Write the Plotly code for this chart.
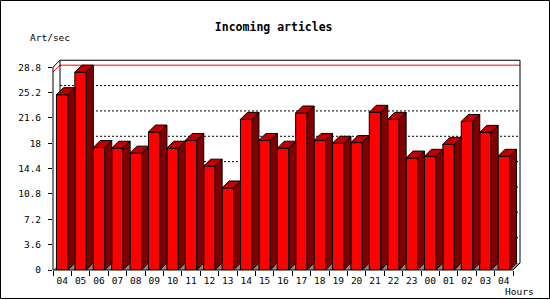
import plotly.graph_objects as go

# ---- data ----
hours = ["04", "05", "06", "07", "08", "09", "10", "11", "12", "13", "14", "15", "16",
         "17", "18", "19", "20", "21", "22", "23", "00", "01", "02", "03", "04"]
rates = [24.9, 28.1, 17.4, 17.3, 16.6, 19.6, 17.3, 18.4, 14.75, 11.65, 21.4, 18.4, 17.3,
         22.3, 18.4, 18.0, 18.1, 22.4, 21.4, 15.9, 16.15, 17.85, 21.1, 19.55, 16.15]
ytick_vals = [0, 3.6, 7.2, 10.8, 14.4, 18, 21.6, 25.2, 28.8]
ytick_text = ["0", "3.6", "7.2", "10.8", "14.4", "18", "21.6", "25.2", "28.8"]
title_text = "Incoming articles"
y_label = "Art/sec"
x_label = "Hours"

# ---- geometry (pixels) ----
W, H = 550, 300
L, R, T, B = 53, 520, 60, 270
PW, PH = R - L, B - T
CW = 18.4            # px per category
K = 7.04             # px per unit
DXP, DYP = 7, 7      # 3D depth in px
BW = 0.625           # bar front width (category units)

n = len(rates)
xs = list(range(n))
x0 = -0.5
x1 = x0 + PW / CW
y0 = 0
y1 = PH / K
dxu = DXP / CW
dyu = DYP / K
ytop = ytick_vals[-1]

def xp(v):
    return (v - x0) / (x1 - x0)

def yp(v):
    return (v - y0) / (y1 - y0)

FONT = "DejaVu Sans Mono"

# side and top polygons of each bar
side_x, side_y, top_x, top_y = [], [], [], []
for c, v in zip(xs, rates):
    xl, xr = c - BW / 2, c + BW / 2
    side_x += [xr, xr + dxu, xr + dxu, xr, xr, None]
    side_y += [0, dyu, v + dyu, v, 0, None]
    top_x += [xl, xr, xr + dxu, xl + dxu, xl, None]
    top_y += [v, v, v + dyu, v + dyu, v, None]

fig = go.Figure()
fig.add_trace(go.Bar(x=xs, y=rates, width=BW,
                     marker=dict(color="#ff0000", line=dict(color="black", width=1)),
                     hoverinfo="skip"))
fig.add_trace(go.Scatter(x=side_x, y=side_y, mode="lines", fill="toself",
                         fillcolor="#800000", line=dict(color="black", width=1),
                         hoverinfo="skip"))
fig.add_trace(go.Scatter(x=top_x, y=top_y, mode="lines", fill="toself",
                         fillcolor="#c00000", line=dict(color="black", width=1),
                         hoverinfo="skip"))

shapes = []
# floor
shapes.append(dict(type="path", xref="x", yref="y", layer="below",
                   path=f"M {x0},0 L {n - 0.5},0 L {n - 0.5 + dxu},{dyu} L {x0 + dxu},{dyu} Z",
                   fillcolor="#8c8c8c", line=dict(width=0)))
# back wall gridlines
for v in ytick_vals[1:-1]:
    shapes.append(dict(type="line", xref="x", yref="y", layer="below",
                       x0=x0 + dxu, x1=n - 0.5 + dxu, y0=v + dyu, y1=v + dyu,
                       line=dict(color="black", width=1, dash="2px,2px")))
# max line (red) on back wall
vmax = max(rates)
shapes.append(dict(type="line", xref="paper", yref="paper", layer="below",
                   x0=xp(x0), y0=yp(vmax), x1=xp(x0 + dxu), y1=yp(vmax + dyu),
                   line=dict(color="#ff0000", width=1)))
shapes.append(dict(type="line", xref="paper", yref="paper", layer="below",
                   x0=xp(x0 + dxu), y0=yp(vmax + dyu), x1=xp(n - 0.5 + dxu), y1=yp(vmax + dyu),
                   line=dict(color="#ff0000", width=1)))
# back frame
def pline(xa, ya, xb, yb, layer="below"):
    shapes.append(dict(type="line", xref="paper", yref="paper", layer=layer,
                       x0=xp(xa), y0=yp(ya), x1=xp(xb), y1=yp(yb),
                       line=dict(color="black", width=1)))

pline(x0 + dxu, dyu, x0 + dxu, ytop + dyu)
pline(x0 + dxu, ytop + dyu, n - 0.5 + dxu, ytop + dyu)
pline(n - 0.5 + dxu, ytop + dyu, n - 0.5 + dxu, dyu)
pline(x0, ytop, x0 + dxu, ytop + dyu)
# front axes
pline(x0, 0, x0, ytop, layer="above")
pline(x0, 0, n - 0.5, 0, layer="above")
pline(n - 0.5, 0, n - 0.5 + dxu, dyu, layer="above")
# image border
shapes.append(dict(type="rect", xref="paper", yref="paper", layer="above",
                   x0=(0.5 - L) / PW, x1=(549.5 - L) / PW,
                   y0=(B - 298.5) / PH, y1=(B - 0.5) / PH,
                   line=dict(color="black", width=1), fillcolor="rgba(0,0,0,0)"))

fig.update_layout(
    width=W, height=H,
    margin=dict(l=L, r=W - R, t=T, b=H - B, pad=0, autoexpand=False),
    paper_bgcolor="white", plot_bgcolor="rgba(0,0,0,0)",
    showlegend=False,
    shapes=shapes,
    font=dict(family=FONT, size=9.5, color="black"),
    title=dict(text=title_text, x=273.7 / W, xanchor="center",
               y=1 - 26.7 / H, yanchor="middle",
               font=dict(family=FONT, size=11.5, color="black", weight="bold")),
    annotations=[
        dict(text=y_label, xref="paper", yref="paper", showarrow=False,
             x=(50.4 - L) / PW, y=(B - 37.3) / PH, xanchor="center", yanchor="middle",
             font=dict(family=FONT, size=9.5, color="black")),
        dict(text=x_label, xref="paper", yref="paper", showarrow=False,
             x=(519.8 - L) / PW, y=(B - 291) / PH, xanchor="center", yanchor="middle",
             font=dict(family=FONT, size=9.5, color="black")),
    ],
    xaxis=dict(range=[x0, x1], tickvals=xs, ticktext=hours, ticks="",
               showgrid=False, zeroline=False, showline=False, fixedrange=True,
               automargin=False, ticklabelstandoff=3,
               minor=dict(tickvals=[i - 0.5 for i in range(n + 1)], ticks="outside",
                          ticklen=5, tickcolor="black", tickwidth=1, showgrid=False),
               tickfont=dict(family=FONT, size=9.5, color="black")),
    yaxis=dict(range=[y0, y1], tickvals=ytick_vals, ticktext=ytick_text,
               ticks="outside", ticklen=4, tickcolor="black", tickwidth=1,
               automargin=False, ticklabelstandoff=5,
               showgrid=False, zeroline=False, showline=False, fixedrange=True,
               tickfont=dict(family=FONT, size=9.5, color="black")),
)

fig.write_html("out.html")
